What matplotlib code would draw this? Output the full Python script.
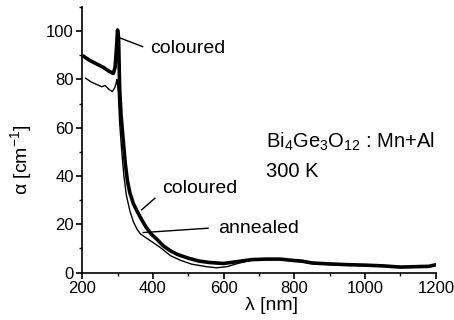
import matplotlib
matplotlib.use("Agg")
import matplotlib.pyplot as plt
from matplotlib.ticker import MultipleLocator

plt.rcParams['font.family'] = ['Liberation Sans', 'DejaVu Sans']
plt.rcParams['mathtext.fontset'] = 'custom'
plt.rcParams['mathtext.rm'] = 'Liberation Sans'
plt.rcParams['mathtext.it'] = 'Liberation Sans:italic'
plt.rcParams['mathtext.bf'] = 'Liberation Sans:bold'

# coloured sample (thick line)
wl_col = [205, 220, 240, 260, 275, 288, 293, 297, 300, 303, 306, 310, 316, 322,
          328, 335, 345, 355, 368, 380, 395, 410, 430, 450, 470, 500, 530, 560,
          600, 640, 680, 720, 760, 780, 800, 820, 850, 900, 950, 1000, 1050,
          1100, 1150, 1180, 1198]
a_col = [89.5, 88, 86.5, 85, 83.5, 82.5, 85, 93, 100.5, 97, 76, 65, 55, 45,
         38, 33, 28.5, 25.5, 22, 19, 16, 14, 11, 9, 7.5, 6, 4.8, 4.2,
         3.8, 4.6, 5.4, 5.6, 5.6, 5.3, 5.0, 4.8, 4.0, 3.6, 3.3, 3.1, 2.8,
         2.3, 2.5, 2.6, 3.2]

# annealed sample (thin line)
wl_ann = [210, 225, 240, 255, 265, 275, 285, 292, 296, 298, 302, 306, 312, 318,
          325, 335, 345, 355, 365, 380, 400, 420, 450, 480, 510, 550, 580, 610,
          640, 680, 720, 760, 800, 850, 900, 1000, 1100, 1150, 1198]
a_ann = [80.5, 79, 78, 77, 77.5, 76, 75, 76.5, 78.5, 80, 75, 62, 50, 40,
         32, 25.5, 21, 18, 16, 14.5, 12.5, 10.5, 7, 5, 3.5, 2.5, 2, 2.5,
         3.8, 5.2, 5.4, 5.4, 4.8, 3.8, 3.4, 3.0, 2.2, 2.3, 3.0]

fig = plt.figure(figsize=(4.54, 3.2), dpi=100)
ax = fig.add_axes([0.181, 0.148, 0.779, 0.830])

ax.plot(wl_ann, a_ann, color='black', lw=1.0)
ax.plot(wl_col, a_col, color='black', lw=2.6)

ax.set_xlim(200, 1200)
ax.set_ylim(0, 110)
ax.xaxis.set_major_locator(MultipleLocator(200))
ax.xaxis.set_minor_locator(MultipleLocator(100))
ax.yaxis.set_major_locator(MultipleLocator(20))
ax.yaxis.set_minor_locator(MultipleLocator(10))
ax.spines['top'].set_visible(False)
ax.spines['right'].set_visible(False)
for s in ['left', 'bottom']:
    ax.spines[s].set_linewidth(1.2)
ax.tick_params(which='major', direction='out', length=4, width=1.2, labelsize=12, pad=2)
ax.tick_params(which='minor', direction='out', length=2.5, width=1.0)

# labels with pointer lines
ax.text(391, 90.9, 'coloured', fontsize=14, va='baseline')
ax.plot([307, 371], [97.2, 93.6], color='black', lw=1.0)
ax.text(427, 33, 'coloured', fontsize=14, va='baseline')
ax.plot([368, 405.5], [26, 30.8], color='black', lw=1.0)
ax.text(584.5, 16.4, 'annealed', fontsize=14, va='baseline')
ax.plot([372.5, 556], [16.6, 18.4], color='black', lw=1.0)

ax.text(720, 51.6, r'Bi$_4$Ge$_3$O$_{12}$ : Mn+Al', fontsize=14.5, va='baseline')
ax.text(719, 39.6, '300 K', fontsize=14.5, va='baseline')

fig.text(21 / 454, 1 - 160 / 320, 'α [cm$^{-1}$]', rotation=90, fontsize=14,
         ha='center', va='center')
fig.text(271.5 / 454, 1 - 305 / 320, 'λ [nm]', fontsize=14, ha='center', va='center')

fig.savefig('out.png', dpi=100)
